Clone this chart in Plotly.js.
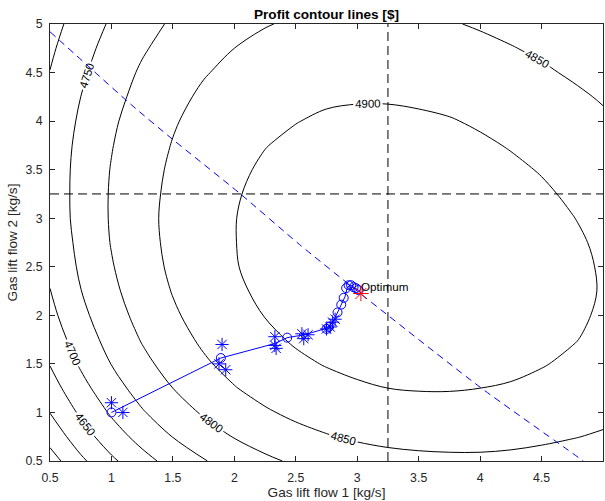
<!DOCTYPE html>
<html><head><meta charset="utf-8">
<script src="https://cdn.plot.ly/plotly-3.0.1.min.js"></script>
<style>html,body{margin:0;padding:0;background:#fff;}#chart{width:605px;height:501px;}</style>
</head><body><div id="chart"></div>
<script>
// Profit surface sampled on a 0.25 grid (values estimated from the reference contours)
const gridX = [0.5, 0.75, 1, 1.25, 1.5, 1.75, 2, 2.25, 2.5, 2.75, 3, 3.25, 3.5, 3.75, 4, 4.25, 4.5, 4.75, 5];
const gridY = [0.5, 0.75, 1, 1.25, 1.5, 1.75, 2, 2.25, 2.5, 2.75, 3, 3.25, 3.5, 3.75, 4, 4.25, 4.5, 4.75, 5];
const profitRows = [
  [4528,4590,4641,4683,4718,4747,4771,4791,4807,4819,4828,4835,4839,4841,4841,4839,4835,4829,4822], // y=0.5
  [4568,4627,4677,4717,4751,4779,4802,4821,4836,4847,4856,4862,4865,4866,4866,4863,4858,4852,4845], // y=0.75
  [4601,4658,4706,4746,4778,4805,4827,4845,4859,4870,4878,4883,4886,4887,4885,4882,4877,4870,4862], // y=1
  [4629,4684,4731,4769,4800,4826,4848,4865,4878,4888,4895,4900,4902,4902,4900,4897,4891,4884,4875], // y=1.25
  [4652,4706,4751,4788,4818,4844,4864,4880,4893,4902,4909,4913,4915,4914,4912,4908,4902,4894,4885], // y=1.5
  [4671,4724,4767,4803,4833,4857,4877,4892,4904,4913,4919,4923,4924,4923,4920,4916,4909,4902,4892], // y=1.75
  [4687,4738,4780,4815,4844,4867,4886,4901,4913,4921,4927,4930,4931,4929,4926,4921,4914,4906,4896], // y=2
  [4699,4749,4790,4824,4852,4875,4893,4908,4919,4926,4932,4934,4935,4933,4929,4924,4917,4908,4898], // y=2.25
  [4708,4757,4797,4830,4858,4880,4898,4911,4922,4929,4934,4936,4936,4934,4930,4924,4917,4908,4897], // y=2.5
  [4715,4762,4802,4834,4861,4882,4899,4913,4923,4930,4934,4936,4935,4933,4928,4922,4914,4905,4895], // y=2.75
  [4719,4766,4804,4836,4862,4883,4899,4912,4922,4928,4932,4933,4933,4930,4925,4919,4911,4901,4890], // y=3
  [4721,4766,4804,4835,4860,4881,4897,4909,4919,4925,4928,4929,4928,4925,4920,4913,4905,4895,4884], // y=3.25
  [4721,4765,4802,4832,4857,4877,4893,4905,4914,4920,4923,4923,4922,4919,4913,4906,4898,4888,4876], // y=3.5
  [4719,4762,4798,4828,4852,4872,4887,4899,4907,4913,4916,4916,4914,4911,4905,4898,4889,4879,4867], // y=3.75
  [4714,4757,4793,4822,4846,4865,4880,4891,4899,4905,4907,4907,4905,4902,4896,4888,4879,4869,4857], // y=4
  [4709,4750,4786,4814,4838,4857,4871,4882,4890,4895,4897,4897,4895,4891,4885,4877,4868,4858,4846], // y=4.25
  [4701,4742,4777,4806,4829,4847,4861,4872,4879,4884,4886,4886,4884,4879,4873,4865,4856,4845,4833], // y=4.5
  [4692,4733,4767,4795,4818,4836,4850,4860,4868,4872,4874,4874,4871,4867,4860,4852,4843,4832,4819], // y=4.75
  [4682,4722,4756,4784,4806,4824,4838,4848,4855,4859,4861,4860,4858,4853,4846,4838,4829,4818,4805]  // y=5
];
const contourLevels = [4550, 4900, 50];

// constraint curve (blue dashed)
const constraintX = [0.5, 0.86, 1.16, 1.5, 2.04, 2.53, 3.02, 4.0, 4.68, 4.84];
const constraintY = [4.92, 4.51, 4.17, 3.81, 3.26, 2.73, 2.23, 1.26, 0.645, 0.5];

// dashed reference lines
const refX = 3.25, refY = 3.25;
const axisMin = 0.5, axisMax = 5;

// optimisation path (iterates)
const pathX = [1.0, 1.89, 2.33, 2.43, 2.57, 2.76, 2.81, 2.845, 2.87, 2.90, 2.92, 2.95, 2.98, 3.01, 3.03];
const pathY = [1.0, 1.56, 1.71, 1.77, 1.80, 1.87, 1.95, 2.04, 2.12, 2.19, 2.29, 2.31, 2.28, 2.26, 2.23];
const iterX = [1.0, 1.89, 2.43, 2.75, 2.77, 2.84, 2.87, 2.89, 2.91, 2.93, 2.95, 2.97, 2.99, 3.01];
const iterY = [1.0, 1.56, 1.77, 1.86, 1.88, 2.03, 2.11, 2.18, 2.28, 2.31, 2.31, 2.29, 2.28, 2.26];
// perturbed evaluation points
const probeX = [1.0, 1.093, 1.90, 1.93, 1.875, 2.33, 2.33, 2.34, 2.55, 2.60, 2.565, 2.75, 2.78, 2.80, 2.82];
const probeY = [1.10, 1.0, 1.70, 1.44, 1.50, 1.78, 1.69, 1.66, 1.81, 1.80, 1.76, 1.86, 1.88, 1.93, 1.96];
// optimum
const optX = [3.03], optY = [2.225];
const optLabel = 'Optimum';

const tickVals = [0.5, 1, 1.5, 2, 2.5, 3, 3.5, 4, 4.5, 5];
const tickText = ['0.5', '1', '1.5', '2', '2.5', '3', '3.5', '4', '4.5', '5'];

const FONT = 'Liberation Sans, Arial, Helvetica, sans-serif';
const AX = '#262626';
const BLUE = '#0000ff';

const traces = [
  {type: 'contour', x: gridX, y: gridY, z: profitRows,
   contours: {start: contourLevels[0], end: contourLevels[1], size: contourLevels[2], coloring: 'none',
              showlabels: true, labelfont: {family: FONT, size: 11.5, color: '#000'}},
   line: {color: '#000', width: 1, smoothing: 1}, showscale: false, hoverinfo: 'skip'},
  {type: 'scatter', mode: 'lines', x: [refX, refX], y: [axisMin, axisMax],
   line: {color: '#000', width: 1, dash: '9px,5px'}, hoverinfo: 'skip'},
  {type: 'scatter', mode: 'lines', x: [axisMin, axisMax], y: [refY, refY],
   line: {color: '#000', width: 1, dash: '9px,5px'}, hoverinfo: 'skip'},
  {type: 'scatter', mode: 'lines', x: constraintX, y: constraintY,
   line: {color: BLUE, width: 1, dash: '7px,5px', shape: 'spline', smoothing: 0.6}, hoverinfo: 'skip'},
  {type: 'scatter', mode: 'lines', x: pathX, y: pathY,
   line: {color: BLUE, width: 1}, hoverinfo: 'skip'},
  {type: 'scatter', mode: 'markers', x: iterX, y: iterY,
   marker: {symbol: 'circle-open', size: 9, color: BLUE, line: {color: BLUE, width: 1}}, hoverinfo: 'skip'},
  {type: 'scatter', mode: 'markers', x: probeX, y: probeY,
   marker: {symbol: 'asterisk-open', size: 11, color: BLUE, line: {color: BLUE, width: 1}}, hoverinfo: 'skip'},
  {type: 'scatter', mode: 'markers', x: optX, y: optY,
   marker: {symbol: 'asterisk-open', size: 13, color: '#ff0000', line: {color: '#ff0000', width: 1}}, hoverinfo: 'skip'}
];

const axisBase = {
  range: [axisMin, axisMax], tickmode: 'array', tickvals: tickVals, ticktext: tickText,
  ticks: 'inside', ticklen: 5, tickwidth: 1, tickcolor: AX,
  showline: true, linecolor: AX, linewidth: 1, mirror: 'ticks',
  showgrid: false, zeroline: false, tickfont: {family: FONT, size: 12.3, color: AX},
  automargin: false
};

const layout = {
  width: 605, height: 501,
  margin: {l: 50, r: 2, t: 24, b: 40},
  paper_bgcolor: '#fff', plot_bgcolor: '#fff',
  font: {family: FONT, color: AX},
  showlegend: false,
  title: {text: 'Profit contour lines [$]', font: {family: FONT, size: 13.6, color: '#000', weight: 'bold'},
          x: 0.5, xref: 'paper', xanchor: 'center', y: 1 - 14.5 / 501, yref: 'container', yanchor: 'middle'},
  xaxis: Object.assign({}, axisBase, {title: {text: 'Gas lift flow 1 [kg/s]', font: {family: FONT, size: 13.6, color: AX}, standoff: 1},
                                        ticklabelstandoff: 5}),
  yaxis: Object.assign({}, axisBase, {title: {text: 'Gas lift flow 2 [kg/s]', font: {family: FONT, size: 13.6, color: AX}, standoff: 4},
                                        ticklabelstandoff: 4}),
  annotations: [{x: optX[0], y: 2.297, xref: 'x', yref: 'y', text: optLabel, showarrow: false,
                 xanchor: 'left', yanchor: 'middle', xshift: -2, font: {family: FONT, size: 11.7, color: '#000'}}]
};

Plotly.newPlot('chart', traces, layout, {staticPlot: true, displayModeBar: false});
</script></body></html>
